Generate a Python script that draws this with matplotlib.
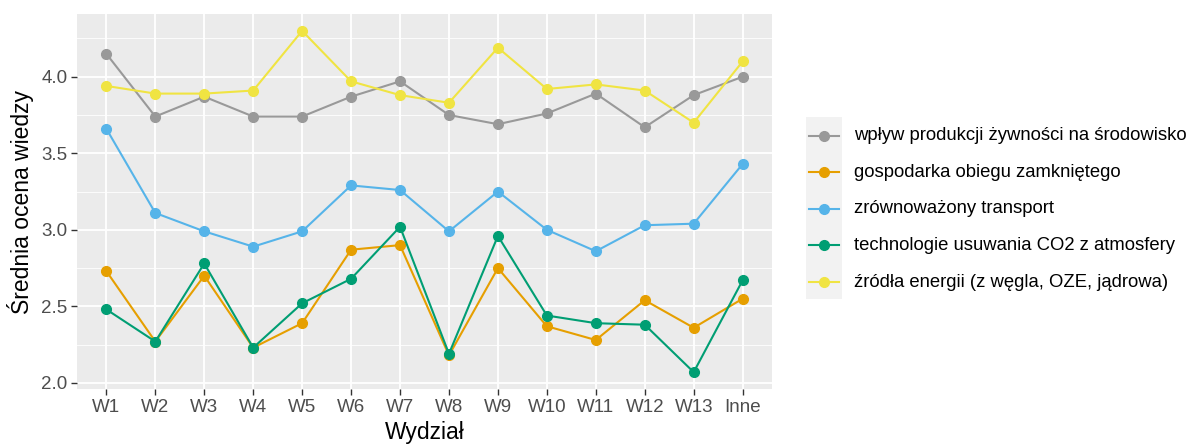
import matplotlib
matplotlib.use("Agg")
import matplotlib.pyplot as plt
from matplotlib.lines import Line2D
from matplotlib.patches import Rectangle
import numpy as np

plt.rcParams['font.family'] = ['Liberation Sans', 'DejaVu Sans']

wydzialy = ['W1', 'W2', 'W3', 'W4', 'W5', 'W6', 'W7', 'W8', 'W9', 'W10',
            'W11', 'W12', 'W13', 'Inne']

zywnosc = [4.15, 3.74, 3.87, 3.74, 3.74, 3.87, 3.97, 3.75, 3.69, 3.76,
           3.89, 3.67, 3.88, 4.00]
gospodarka = [2.73, 2.27, 2.70, 2.23, 2.39, 2.87, 2.90, 2.18, 2.75, 2.37,
              2.28, 2.54, 2.36, 2.55]
transport = [3.66, 3.11, 2.99, 2.89, 2.99, 3.29, 3.26, 2.99, 3.25, 3.00,
             2.86, 3.03, 3.04, 3.43]
co2 = [2.48, 2.27, 2.78, 2.23, 2.52, 2.68, 3.02, 2.19, 2.96, 2.44,
       2.39, 2.38, 2.07, 2.67]
energia = [3.94, 3.89, 3.89, 3.91, 4.30, 3.97, 3.88, 3.83, 4.19, 3.92,
           3.95, 3.91, 3.70, 4.10]

etykiety = ['wpływ produkcji żywności na środowisko',
            'gospodarka obiegu zamkniętego',
            'zrównoważony transport',
            'technologie usuwania CO2 z atmosfery',
            'źródła energii (z węgla, OZE, jądrowa)']
serie = [zywnosc, gospodarka, transport, co2, energia]
kolory = ['#999999', '#E69F00', '#56B4E9', '#009E73', '#F0E442']

W, H = 1190, 444
fig = plt.figure(figsize=(W / 100, H / 100), dpi=100)
# panel in pixels: left 77, right 772, top 14, bottom 389
ax = fig.add_axes([77 / W, 1 - 389 / H, (772 - 77) / W, (389 - 14) / H])
ax.set_facecolor('#EBEBEB')

x = np.arange(len(wydzialy))
for y, c in zip(serie, kolory):
    ax.plot(x, y, color=c, lw=1.5, marker='o', ms=7, zorder=3)

ax.set_xlim(-0.6, len(wydzialy) - 1 + 0.6)
ax.set_ylim(1.96, 4.41)
ax.set_xticks(x)
ax.set_xticklabels(wydzialy)
ax.set_yticks([2.0, 2.5, 3.0, 3.5, 4.0])
ax.set_yticklabels(['2.0', '2.5', '3.0', '3.5', '4.0'])
ax.set_yticks([2.25, 2.75, 3.25, 3.75, 4.25], minor=True)
ax.grid(which='major', color='white', lw=1.3, zorder=0)
ax.grid(which='minor', axis='y', color='white', lw=0.6, zorder=0)
ax.set_axisbelow(True)
for s in ax.spines.values():
    s.set_visible(False)
ax.tick_params(which='major', length=4, width=1, color='#333333',
               labelcolor='#4D4D4D', labelsize=13.5, pad=3)
ax.tick_params(which='minor', length=0)

ax.set_xlabel('Wydział', fontsize=16.5, color='black', labelpad=4)
ax.set_ylabel('Średnia ocena wiedzy', fontsize=16.5, color='black', labelpad=5)

# legend drawn by hand in pixel positions, ggplot style
fig.add_artist(Rectangle((806 / W, 1 - 299 / H), 36 / W, 182 / H,
                         transform=fig.transFigure, facecolor='#F2F2F2',
                         edgecolor='none'))
for i, (lab, c) in enumerate(zip(etykiety, kolory)):
    yp = 1 - (135.7 + i * 36.6) / H
    fig.add_artist(Line2D([809 / W, 839 / W], [yp, yp], transform=fig.transFigure,
                          color=c, lw=1.5))
    fig.add_artist(Line2D([824 / W], [yp], transform=fig.transFigure,
                          color=c, marker='o', ms=7, lw=0))
    fig.text(854 / W, yp, lab, fontsize=13.3, va='center', ha='left')

fig.savefig('out.png', dpi=100)
